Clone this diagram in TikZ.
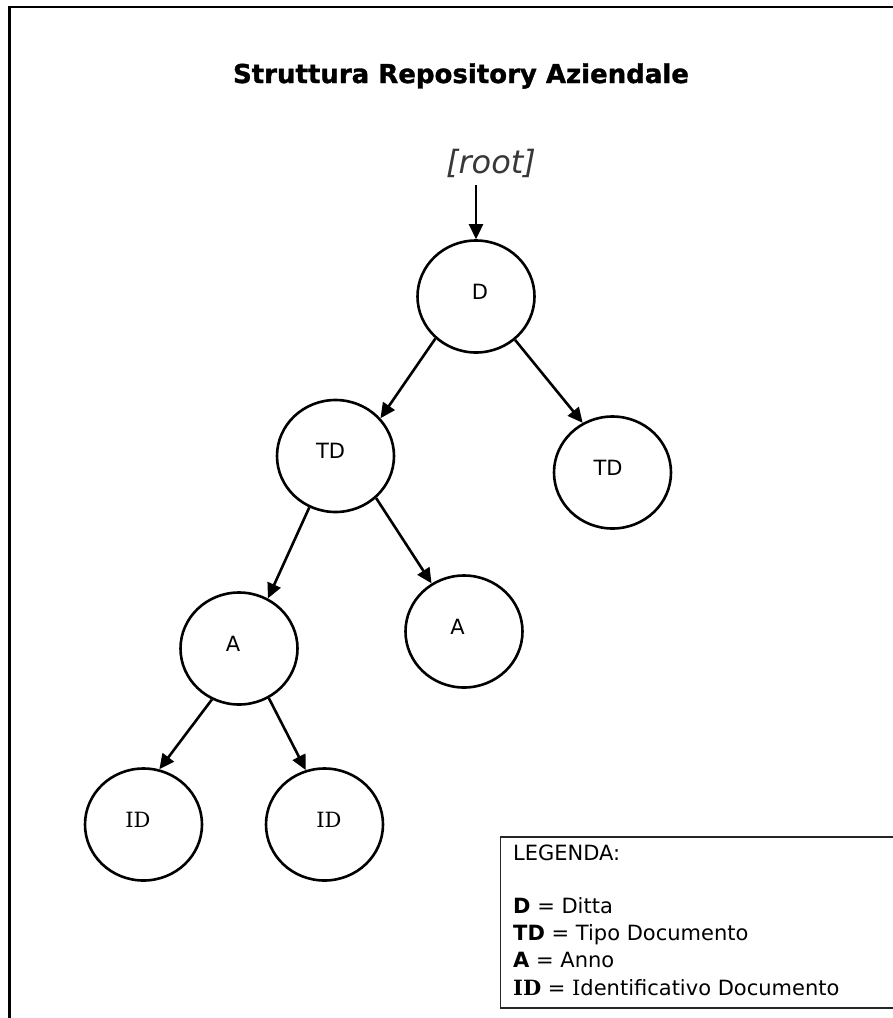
\documentclass[tikz,border=0pt]{standalone}
\usepackage{fontspec}
\setmainfont{DejaVu Sans}
\newfontfamily\slabfont{DejaVu Serif}
\newfontfamily\titlefont[BoldFeatures={FakeBold=1.2}]{DejaVu Sans}
\usetikzlibrary{shapes.geometric,arrows.meta}
\begin{document}
\begin{tikzpicture}[x=1pt,y=-1pt,
  vert/.style={draw=black, line width=2.6pt, ellipse, inner sep=0pt,
               minimum width=117pt, minimum height=112pt},
  lbl/.style={font=\fontsize{21}{25}\selectfont, inner sep=0pt, yshift=5pt},
  arr/.style={line width=2.6pt, -{Triangle[length=15pt,width=14pt]}},
  legtext/.style={anchor=base west, inner sep=0pt, font=\fontsize{21}{27}\selectfont}]

\useasboundingbox (0,0) rectangle (893,1018);
\fill[white] (0,0) rectangle (893,1018);

% outer frame (top and left edges)
\draw[line width=2.4pt] (9.5,1018) -- (9.5,7) -- (893,7);

% title and root marker
\node[anchor=base, inner sep=0pt, font=\titlefont\bfseries\fontsize{26}{30}\selectfont] (title) at (461,83)
  {Struttura Repository Aziendale};
\node[anchor=base, inner sep=0pt, text=black!78, font=\itshape\fontsize{32}{36}\selectfont] (root) at (491,173)
  {[root]};
\coordinate (rootfoot) at (476,185);

% tree nodes
\node[vert, label={[lbl, xshift=4pt]center:D}]   (D)   at (476,296.5) {};
\node[vert, label={[lbl, xshift=-5pt]center:TD}] (TDL) at (335.5,456) {};
\node[vert, label={[lbl, xshift=-4.5pt]center:TD}] (TDR) at (612.5,472.5) {};
\node[vert, label={[lbl, xshift=-6pt]center:A}]  (AL)  at (239,648.5) {};
\node[vert, label={[lbl, xshift=-6.5pt]center:A}] (AR) at (464,631.5) {};
\node[vert, label={[lbl, xshift=-5.5pt, font=\slabfont\fontsize{21}{25}\selectfont]center:ID}] (IDL) at (143.5,824.5) {};
\node[vert, label={[lbl, xshift=4.5pt, font=\slabfont\fontsize{21}{25}\selectfont]center:ID}]  (IDR) at (324.5,824.5) {};

% connectors
\draw[arr] (rootfoot) -- (D.north);
\draw[arr] (D.226) -- (TDL.40);
\draw[arr] (D.312) -- (TDR.121);
\draw[arr] (TDL.243) -- (AL.60);
\draw[arr] (TDL.314) -- (AR.124);
\draw[arr] (AL.242) -- (IDL.74);
\draw[arr] (AL.301) -- (IDR.109);

% legend
\draw[line width=1.8pt, black!85] (500.5,837) rectangle (905,1008);
\node[legtext] (leg0) at (513,860) {LEGENDA:};
\node[legtext] (leg1) at (513,913) {\textbf{D} = Ditta};
\node[legtext] (leg2) at (513,940) {\textbf{TD} = Tipo Documento};
\node[legtext] (leg3) at (513,967) {\textbf{A} = Anno};
\node[legtext] (leg4) at (513,995) {{\slabfont\bfseries ID} = {\slabfont I}dentificativo Documento};
\end{tikzpicture}
\end{document}
